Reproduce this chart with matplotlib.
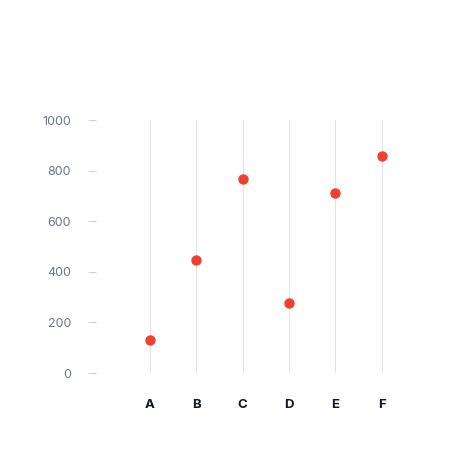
import matplotlib.pyplot as plt

categories = ['A', 'B', 'C', 'D', 'E', 'F']
values = [130, 447, 767, 277, 711, 858]
y_ticks = [0, 200, 400, 600, 800, 1000]

plt.rcParams['font.family'] = ['Inter', 'DejaVu Sans']
fig = plt.figure(figsize=(4.74, 4.73), dpi=100)
W, H = 474, 473
ax = fig.add_axes([96 / W, 1 - 373 / H, (406 - 96) / W, (373 - 120) / H])

x = list(range(len(categories)))
for xi in x:
    ax.axvline(xi, color='#e3e3e3', lw=0.8, zorder=0)
ax.scatter(x, values, s=42, color='#f0402f', zorder=3)

ax.set_xlim(-1.16, 5.52)
ax.set_ylim(0, 1000)
ax.set_yticks(y_ticks)
ax.set_yticklabels([str(v) for v in y_ticks], color='#6b7785', fontsize=9)
ax.set_xticks(x)
ax.set_xticklabels(categories, fontweight='bold', color='#111827', fontsize=9.5)
ax.tick_params(axis='y', length=6, color='#cfd4da', pad=12)
ax.tick_params(axis='x', length=0, pad=19)
for s in ax.spines.values():
    s.set_visible(False)

fig.savefig('out.png', dpi=100)
